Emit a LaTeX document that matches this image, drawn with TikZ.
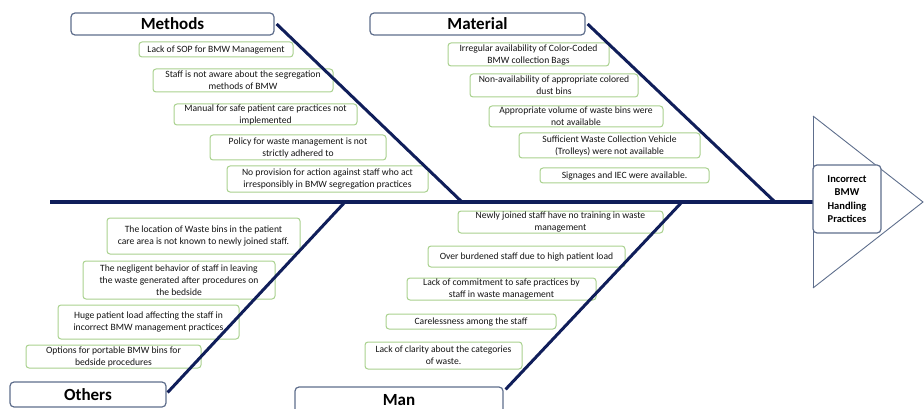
\documentclass[tikz,border=0pt]{standalone}
\usepackage{fontspec}
\setmainfont{Carlito}
\usetikzlibrary{calc}
\definecolor{bone}{HTML}{101E5A}
\definecolor{greenb}{HTML}{A9D18E}
\definecolor{titleb}{HTML}{5E6E8C}
\definecolor{txt}{HTML}{141414}
\begin{document}
\begin{tikzpicture}[x=1pt,y=-1pt,
  cause/.style={draw=greenb, line width=1pt, rounded corners=3pt, fill=white,
    align=center, inner sep=0pt, text=txt, font=\fontsize{9.6}{12}\selectfont},
  titlebox/.style={draw=titleb, line width=1.2pt, rounded corners=4pt, fill=white,
    inner sep=0pt, font=\bfseries\fontsize{17}{18}\selectfont},
  bonel/.style={draw=bone, line width=3pt},
  spinel/.style={draw=bone, line width=3.5pt}]
\useasboundingbox (0,0) rectangle (924,409);
\clip (0,0) rectangle (924,409);
% head triangle
\coordinate (tt) at (813,116);
\coordinate (tp) at (923,202);
\coordinate (tb) at (813,288);
\coordinate (tl) at (813,202);
\draw[titleb, line width=0.9pt] (tt) -- (tp) -- (tb);
\draw[titleb, line width=0.9pt] (tt) -- (tb);
% spine
\coordinate (tail) at (50,202);
\draw[spinel] (tail) -- (tl);
\node[titlebox, minimum width=68, minimum height=68, align=center,
  font=\bfseries\fontsize{10.5}{13.3}\selectfont] (head) at (847,199)
  {Incorrect\\BMW\\Handling\\Practices};
% titles
\node[titlebox, minimum width=203, minimum height=22] (methods) at (172.5,24) {Methods};
\node[titlebox, minimum width=215, minimum height=22] (material) at (477.5,24) {Material};
\node[titlebox, minimum width=156, minimum height=25] (others) at (88,394.5) {Others};
\node[titlebox, minimum width=208, minimum height=26] (man) at (399,400) {Man};
% methods causes
\node[cause, minimum width=154, minimum height=15] (me1) at (216,49.5) {Lack of SOP for BMW Management};
\node[cause, minimum width=180, minimum height=23] (me2) at (243,80.5) {Staff is not aware about the segregation\\methods of BMW};
\node[cause, minimum width=183, minimum height=21] (me3) at (265.5,114.5) {Manual for safe patient care practices not\\implemented};
\node[cause, minimum width=176, minimum height=25] (me4) at (298,147.5) {Policy for waste management is not\\strictly adhered to};
\node[cause, minimum width=201, minimum height=26] (me5) at (327.5,179) {No provision for action against staff who act\\irresponsibly in BMW segregation practices};
% material causes
\node[cause, minimum width=161, minimum height=23] (ma1) at (528.5,54.5) {Irregular availability of Color-Coded\\BMW collection Bags};
\node[cause, minimum width=168, minimum height=23] (ma2) at (554,85.5) {Non-availability of appropriate colored\\dust bins};
\node[cause, minimum width=174, minimum height=21] (ma3) at (576,116.5) {Appropriate volume of waste bins were\\not available};
\node[cause, minimum width=181, minimum height=25] (ma4) at (609.5,145.5) {Sufficient Waste Collection Vehicle\\(Trolleys) were not available};
\node[cause, minimum width=169, minimum height=15] (ma5) at (624.5,175.5) {Signages and IEC were available.};
% others causes
\node[cause, minimum width=193, minimum height=36] (o1) at (203.5,236) {The location of Waste bins in the patient\\care area is not known to newly joined staff.};
\node[cause, minimum width=192, minimum height=38] (o2) at (179,280) {The negligent behavior of staff in leaving\\the waste generated after procedures on\\the bedside};
\node[cause, minimum width=181, minimum height=34] (o3) at (148.5,322) {Huge patient load affecting the staff in\\incorrect BMW management practices};
\node[cause, minimum width=175, minimum height=23] (o4) at (113.5,356.5) {Options for portable BMW bins for\\bedside procedures};
% man causes
\node[cause, minimum width=205, minimum height=22] (mn1) at (560.5,222) {Newly joined staff have no training in waste\\management};
\node[cause, minimum width=197, minimum height=21] (mn2) at (526.5,256.5) {Over burdened staff due to high patient load};
\node[cause, minimum width=189, minimum height=22] (mn3) at (501.5,289) {Lack of commitment to safe practices by\\staff in waste management};
\node[cause, minimum width=170, minimum height=15] (mn4) at (471,321.5) {Carelessness among the staff};
\node[cause, minimum width=157, minimum height=27] (mn5) at (443.5,355.5) {Lack of clarity about the categories\\of waste.};
% bones
\coordinate (jme) at (462,202);
\coordinate (jma) at (775,202);
\coordinate (jo) at (345,202);
\coordinate (jmn) at (682,202);
\draw[bonel] ($(methods.east)+(2,0)$) -- (jme);
\draw[bonel] ($(material.east)+(2,0)$) -- (jma);
\draw[bonel] ($(others.east)+(1,-2)$) -- (jo);
\draw[bonel] ($(man.north east)+(2,3)$) -- (jmn);
\end{tikzpicture}
\end{document}
